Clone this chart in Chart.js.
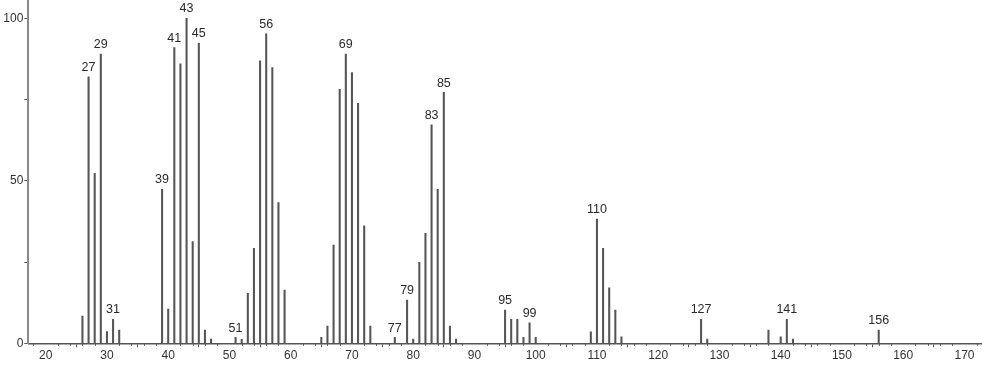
<!DOCTYPE html>
<html>
<head>
<meta charset="utf-8">
<script src="https://cdn.jsdelivr.net/npm/chart.js@4"></script>
<style>
    html, body { margin: 0; padding: 0; background: #fff; }
    #wrap { width: 982px; height: 365px; position: relative; }
</style>
</head>
<body>
<div id="wrap"><canvas id="spectrum"></canvas></div>
<script>
// Mass spectrum data (m/z vs relative intensity)
const mz = [26, 27, 28, 29, 30, 31, 32, 39, 40, 41, 42, 43, 44, 45, 46, 47, 51, 52, 53, 54, 55, 56, 57, 58, 59,
    65, 66, 67, 68, 69, 70, 71, 72, 73, 77, 79, 80, 81, 82, 83, 84, 85, 86, 87, 95, 96, 97, 98, 99, 100,
    109, 110, 111, 112, 113, 114, 127, 128, 138, 140, 141, 142, 156];
const intensity = [8.4, 82, 52.3, 89, 3.6, 7.4, 4.1, 47.4, 10.5, 91, 86, 100, 31.3, 92.3, 4.1, 1.3, 1.8, 1.2, 15.4, 29.2, 86.9, 95.2, 84.8, 43.3, 16.4,
    1.8, 5.3, 30.2, 78.1, 89, 83.3, 73.8, 36.1, 5.3, 1.8, 13.3, 1.3, 24.9, 33.8, 67.2, 47.4, 77.2, 5.3, 1.3, 10.2, 7.4, 7.4, 1.8, 6.3, 1.8,
    3.5, 38.2, 29.2, 17.1, 10.2, 2, 7.4, 1.3, 4.1, 2, 7.4, 1.3, 4.1];
const labeledMz = [27, 29, 31, 39, 41, 43, 45, 51, 56, 69, 77, 79, 83, 85, 95, 99, 110, 127, 141, 156];
const xTicks = [20, 30, 40, 50, 60, 70, 80, 90, 100, 110, 120, 130, 140, 150, 160, 170];
const yTicks = [0, 25, 50, 75, 100];
const yLabels = [0, 50, 100];

const FONT = "'Liberation Sans', 'DejaVu Sans', sans-serif";

// Peak labels above selected bars
const peakLabels = {
    id: 'peakLabels',
    afterDatasetsDraw(chart) {
        const ctx = chart.ctx;
        const meta = chart.getDatasetMeta(0);
        ctx.save();
        ctx.font = '12.5px ' + FONT;
        ctx.fillStyle = '#2a2a2a';
        ctx.textAlign = 'center';
        ctx.textBaseline = 'bottom';
        meta.data.forEach((bar, i) => {
            if (labeledMz.includes(mz[i])) {
                ctx.fillText(String(mz[i]), bar.x, bar.y - 3);
            }
        });
        ctx.restore();
    }
};

// Small minor ticks every 2 units on the x axis
const minorTicks = {
    id: 'minorTicks',
    afterDraw(chart) {
        const ctx = chart.ctx;
        const x = chart.scales.x;
        const y0 = chart.chartArea.bottom;
        ctx.save();
        ctx.strokeStyle = '#555';
        ctx.lineWidth = 1;
        for (let v = 18; v <= 172; v += 2) {
            if (v % 10 === 0) continue;
            const px = Math.round(x.getPixelForValue(v)) + 0.5;
            ctx.beginPath();
            ctx.moveTo(px, y0);
            ctx.lineTo(px, y0 + 2.5);
            ctx.stroke();
        }
        ctx.restore();
    }
};

new Chart(document.getElementById('spectrum'), {
    type: 'bar',
    data: {
        datasets: [{
            data: mz.map((m, i) => ({ x: m, y: intensity[i] })),
            backgroundColor: '#555',
            borderWidth: 0,
            barThickness: 1.4,
            grouped: false
        }]
    },
    options: {
        responsive: true,
        maintainAspectRatio: false,
        animation: false,
        layout: { padding: { top: 0, right: 1, left: 0, bottom: 0 } },
        plugins: {
            legend: { display: false },
            tooltip: { enabled: false }
        },
        scales: {
            x: {
                type: 'linear',
                offset: false,
                min: 17.16,
                max: 172.7,
                afterBuildTicks: (scale) => { scale.ticks = xTicks.map(v => ({ value: v })); },
                afterFit: (scale) => {
                    scale.height = 21.7;
                    scale.paddingLeft = 0;
                    scale.paddingRight = 0;
                },
                grid: { display: true, drawOnChartArea: false, drawTicks: true, tickLength: 4, tickColor: '#555', tickWidth: 1 },
                border: { display: true, color: '#555', width: 1.5 },
                ticks: {
                    autoSkip: false,
                    maxRotation: 0,
                    padding: 1,
                    color: '#333',
                    font: { family: FONT, size: 12 }
                }
            },
            y: {
                min: 0,
                max: 105.6,
                afterBuildTicks: (scale) => { scale.ticks = yTicks.map(v => ({ value: v })); },
                afterFit: (scale) => {
                    scale.width = 28.3;
                    scale.paddingTop = 0;
                    scale.paddingBottom = 0;
                },
                grid: { display: true, drawOnChartArea: false, drawTicks: true, tickLength: 4, tickColor: '#555', tickWidth: 1 },
                border: { display: true, color: '#8a8a8a', width: 2 },
                ticks: {
                    autoSkip: false,
                    padding: 1,
                    color: '#333',
                    font: { family: FONT, size: 12 },
                    callback: (v) => yLabels.includes(v) ? String(v) : ''
                }
            }
        }
    },
    plugins: [peakLabels, minorTicks]
});
</script>
</body>
</html>
